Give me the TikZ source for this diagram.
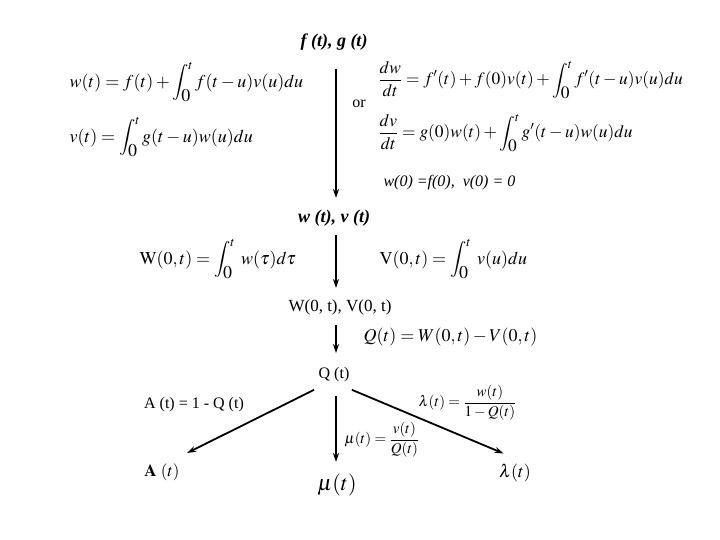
\documentclass[tikz,border=0pt]{standalone}
\usepackage{mathptmx}
\usepackage[no-math]{fontspec}
\setmainfont{Liberation Serif}
\usetikzlibrary{arrows.meta}
\newcommand{\intot}{\int_{\textstyle 0}^{t}}
\tikzset{
	lbl/.style={font=\fontsize{16}{19}\selectfont},
	hd/.style={font=\fontsize{18}{21}\selectfont\bfseries\itshape},
	eq/.style={font=\fontsize{18}{22}\selectfont,anchor=west},
	smalleq/.style={font=\fontsize{15}{18}\selectfont,anchor=west},
	arr/.style={line width=1.8pt,-{Stealth[length=9pt,width=6pt]}}
}
\begin{document}
\begin{tikzpicture}[x=1pt,y=-1pt]
\useasboundingbox (0,0) rectangle (720,540);
% top level
\node [hd] (fg) at (334,42) {f (t), g (t)};
\node [eq] (eqw) at (66,82) {$\displaystyle w(t) = f(t) + \intot f(t-u)v(u)du$};
\node [eq] (eqv) at (66,137) {$\displaystyle v(t) = \intot g(t-u)w(u)du$};
\node [lbl] (or) at (359,104) {or};
\node [eq,font=\fontsize{17.4}{21}\selectfont] (eqdw) at (375,80) {$\displaystyle \frac{dw}{dt} = f'(t) + f(0)v(t) + \intot f'(t-u)v(u)du$};
\node [eq,font=\fontsize{17.4}{21}\selectfont] (eqdv) at (375,133) {$\displaystyle \frac{dv}{dt} = g(0)w(t) + \intot g'(t-u)w(u)du$};
\node [lbl,anchor=west,font=\fontsize{16}{19}\selectfont\itshape] (init) at (380,183) {w(0) =f(0),\ \ v(0) = 0};
% second level
\node [hd] (wv) at (334,218) {w (t), v (t)};
\node [eq] (eqW) at (136,259) {$\displaystyle \mathrm{W}(0,t) = \intot\; w(\tau)d\tau$};
\node [eq] (eqV) at (376,259) {$\displaystyle \mathrm{V}(0,t) = \intot\; v(u)du$};
\node [lbl,font=\fontsize{17}{20}\selectfont] (WV) at (340,307) {W(0,\ t), V(0,\ t)};
\node [eq] (eqQ) at (360,337) {$Q(t) = W(0,t) - V(0,t)$};
% bottom level
\node [lbl] (q) at (334,375) {Q (t)};
\node [lbl] (eqA) at (194,405) {A (t) = 1 - Q (t)};
\node [smalleq] (eqmu) at (341,440) {$\displaystyle \mu(t) = \frac{v(t)}{Q(t)}$};
\node [smalleq] (eqlam) at (415,403) {$\displaystyle \lambda(t) = \frac{w(t)}{1-Q(t)}$};
\node [font=\fontsize{17}{20}\selectfont] (A) at (162,472) {$\mathbf{A}\ (t)$};
\node [font=\fontsize{22}{26}\selectfont] (mu) at (337,485) {$\mu(t)$};
\node [font=\fontsize{18}{22}\selectfont] (lam) at (515,473) {$\lambda(t)$};
% arrows
\draw [arr,shorten <=27pt,shorten >=20pt] ([xshift=2pt]fg.center) -- ([xshift=2pt]wv.center);
\draw [arr,shorten <=17pt,shorten >=19pt] ([xshift=2pt]wv.center) -- ([xshift=2pt]wv.center |- WV.center);
\draw [arr,shorten <=18pt,shorten >=22pt] ([xshift=2pt]wv.center |- WV.center) -- ([xshift=2pt]q.center);
\draw [arr,shorten <=21pt,shorten >=23pt] ([xshift=2pt]q.center) -- ([xshift=2pt]q.center |- mu.center);
\draw [arr] ([shift={(-1,4)}]q.south west) -- ([shift={(4,-7)}]A.north east);
\draw [arr] ([shift={(-1,4)}]q.south east) -- ([shift={(8,-7)}]lam.north west);
\end{tikzpicture}
\end{document}
